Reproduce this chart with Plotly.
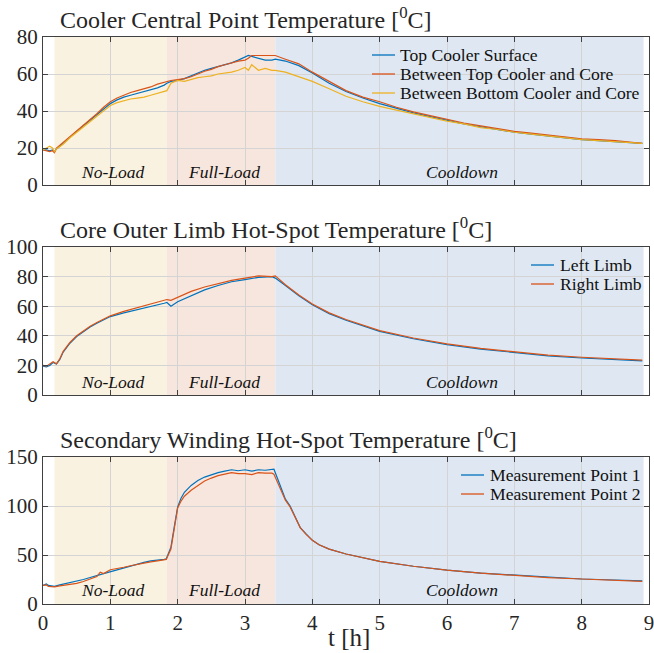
import plotly.graph_objects as go

# ---------------- data ----------------
t1 = [0, 0.05, 0.1, 0.14, 0.17, 0.2, 0.3, 0.4, 0.5, 0.6,
      0.7, 0.8, 0.9, 1.0, 1.1, 1.2, 1.3, 1.4, 1.5, 1.6,
      1.7, 1.8, 1.84, 1.9, 2.0, 2.1, 2.2, 2.3, 2.4, 2.5,
      2.6, 2.7, 2.8, 2.9, 3.0, 3.05, 3.1, 3.2, 3.3, 3.4,
      3.45, 3.6, 3.8, 4.0, 4.25, 4.5, 4.75, 5.0, 5.25, 5.5,
      5.75, 6.0, 6.25, 6.5, 6.75, 7.0, 7.25, 7.5, 7.75, 8.0,
      8.25, 8.5, 8.75, 8.9]
top_cooler = [19, 19, 18.5, 19, 18, 19.5, 22.5, 26, 29, 32,
              35, 38, 41, 44, 46, 47.5, 48.5, 49.5, 50.5, 51.5,
              52.5, 54, 55, 56, 56.5, 57.5, 59, 60.5, 62, 63,
              64, 65, 66, 67.5, 69, 70, 69.5, 68.5, 67.5, 67.5,
              68, 67, 64.5, 60.5, 55, 50.5, 47, 44, 41.5, 39,
              37, 35, 33, 31.5, 30, 28.5, 27.5, 26.5, 25.5, 24.5,
              24, 23.5, 23, 22.5]
top_core = [19, 18.5, 18, 18.5, 17.5, 20, 23, 26.5, 29.5, 32.5,
            35.5, 38.5, 42, 45, 47, 48.5, 50, 51, 52, 53,
            54.5, 55.5, 56, 56.5, 57, 57.5, 58.5, 60, 61.5, 62.5,
            64, 65, 66, 67, 67.5, 68.5, 70, 70, 70, 70,
            70, 68, 65.5, 61, 56, 51, 47.5, 45, 42, 39.5,
            37.5, 35.5, 33.5, 32, 30.5, 29, 28, 27, 26, 25,
            24.5, 24, 23, 22.5]
bottom_core = [19, 20, 21, 20, 18, 19.5, 22, 25.5, 28.5, 31.5,
               34.5, 37.5, 40.5, 43, 44.5, 45.5, 46.5, 47, 47.5, 48.5,
               49.5, 50.5, 51, 55, 56.5, 56, 57, 58, 58.5, 59,
               60, 60.5, 61, 62, 63.5, 62, 65, 62, 63, 62,
               62, 61, 58.5, 56, 52, 48, 45, 42.5, 40.5, 38.5,
               36.5, 34.5, 33, 31, 30, 28.5, 27.5, 26.5, 25.5, 24.5,
               24, 23.5, 23, 22.5]

t2 = [0, 0.05, 0.1, 0.15, 0.2, 0.25, 0.3, 0.4, 0.5, 0.6,
      0.7, 0.8, 0.9, 1.0, 1.2, 1.4, 1.6, 1.8, 1.84, 1.9,
      2.0, 2.2, 2.4, 2.6, 2.8, 3.0, 3.2, 3.4, 3.45, 3.6,
      3.8, 4.0, 4.25, 4.5, 4.75, 5.0, 5.5, 6.0, 6.5, 7.0,
      7.5, 8.0, 8.5, 8.9]
left_limb = [19.5, 19, 20, 22, 21, 24, 29, 35, 39.5, 43,
             46, 48.5, 51, 53, 55.5, 57.5, 60, 62, 62.5, 60,
             63, 67, 71, 74, 76.5, 78, 79.5, 80, 79, 74,
             67, 61, 55, 50.5, 46.5, 43, 38, 34, 31, 28.5,
             26.5, 25, 24, 23]
right_limb = [20, 19.5, 21, 22.5, 21, 24.5, 29.5, 35.5, 40, 43.5,
              46.5, 49, 51.5, 53.5, 56.5, 59, 61.5, 64, 64.5, 64,
              66, 70, 73, 75.5, 77.5, 79, 80.5, 80, 80.5, 74.5,
              67.5, 61.5, 55.5, 51, 47, 43.5, 38.5, 34.5, 31.5, 29,
              27, 25.5, 24.5, 23.5]

t3 = [0, 0.05, 0.08, 0.12, 0.17, 0.25, 0.35, 0.5, 0.6, 0.7,
      0.8, 0.85, 0.9, 1.0, 1.1, 1.2, 1.3, 1.4, 1.5, 1.6,
      1.7, 1.8, 1.83, 1.9, 1.95, 2.0, 2.05, 2.1, 2.2, 2.3,
      2.4, 2.5, 2.6, 2.7, 2.8, 2.9, 3.0, 3.1, 3.2, 3.3,
      3.4, 3.43, 3.5, 3.55, 3.6, 3.67, 3.75, 3.82, 3.9, 4.0,
      4.1, 4.25, 4.5, 4.75, 5.0, 5.5, 6.0, 6.5, 7.0, 7.5,
      8.0, 8.5, 8.9]
mp1 = [19, 20.5, 19, 18.5, 18, 19.5, 21, 23, 25, 27,
       28.5, 30, 31, 33, 34.5, 36.5, 38.5, 40.5, 42.5, 44,
       44.5, 45.5, 46, 58, 79, 99, 108, 114, 121, 126,
       129.5, 132, 134, 135.5, 137, 136, 137, 135.5, 137, 136.5,
       137, 137.5, 125, 115, 107, 100, 88, 78, 72, 65,
       60.5, 56, 51, 47, 43.5, 38.5, 34.5, 31.5, 29.5, 27,
       25.5, 24.5, 23.5]
mp2 = [19, 19.5, 18, 17.5, 17.5, 18.5, 19.5, 21, 23, 25.5,
       28, 32.5, 31, 35, 36, 37.5, 39, 40.5, 42, 43,
       44, 45, 45.5, 56, 77, 98, 105, 110, 116, 121,
       125.5, 128.5, 131, 132.5, 134, 133, 133, 132, 134, 133.5,
       133.5, 132.5, 122, 113, 106, 99, 87.5, 78, 71.5, 65,
       60.5, 56, 51, 47, 43.5, 38.5, 34.5, 31.5, 29, 27,
       25.5, 24, 23]

phase_names = ["No-Load", "Full-Load", "Cooldown"]
phase_bounds = [(0.17, 1.84), (1.84, 3.45), (3.45, 8.92)]
phase_label_x = [1.03, 2.69, 6.22]

panel_titles = ["Cooler Central Point Temperature [<sup>0</sup>C]",
                "Core Outer Limb Hot-Spot Temperature [<sup>0</sup>C]",
                "Secondary Winding Hot-Spot Temperature [<sup>0</sup>C]"]
y_ranges = [(0, 80), (0, 100), (0, 150)]
y_dticks = [20, 20, 50]
x_ticks = list(range(10))

# ---------------- style ----------------
FONT = "Liberation Serif, Times New Roman, serif"
C_BLUE, C_ORANGE, C_YELLOW = "#0072BD", "#D95319", "#EDB120"
phase_colors = ["#FAF2E1", "#F7E6DD", "#DFE8F2"]
AX = "#404040"
GRID = "#D4D4D4"
TXT = "#262626"

W, H = 654, 653
ML, MR, MT, MB = 43, 5, 37, 49
pw = W - ML - MR
ph = H - MT - MB
def py(pix):
    return (H - MB - pix) / ph
def px(pix):
    return (pix - ML) / pw

domains = [(py(185), py(37)), (py(395), py(247)), (py(604), py(457))]

fig = go.Figure()

series = [
    (t1, top_cooler, "Top Cooler Surface", C_BLUE, 1),
    (t1, top_core, "Between Top Cooler and Core", C_ORANGE, 1),
    (t1, bottom_core, "Between Bottom Cooler and Core", C_YELLOW, 1),
    (t2, left_limb, "Left Limb", C_BLUE, 2),
    (t2, right_limb, "Right Limb", C_ORANGE, 2),
    (t3, mp1, "Measurement Point 1", C_BLUE, 3),
    (t3, mp2, "Measurement Point 2", C_ORANGE, 3),
]
for tx, vals, name, col, k in series:
    fig.add_trace(go.Scatter(
        x=tx, y=vals, name=name, mode="lines",
        line=dict(color=col, width=1.2),
        xaxis="x" if k == 1 else f"x{k}",
        yaxis="y" if k == 1 else f"y{k}",
        showlegend=False,
    ))

layout = dict(
    width=W, height=H,
    margin=dict(l=ML, r=MR, t=MT, b=MB),
    paper_bgcolor="white", plot_bgcolor="white",
    font=dict(family=FONT, size=19, color=TXT),
    showlegend=False,
)

for k in range(1, 4):
    xs = "" if k == 1 else str(k)
    xa = dict(
        domain=[0, 1], range=[0, 9], tickvals=x_ticks,
        showticklabels=(k == 3), anchor=f"y{xs}",
        showline=True, linecolor=AX, linewidth=1, mirror="ticks",
        ticks="inside", ticklen=5, tickcolor=AX,
        showgrid=True, gridcolor=GRID, gridwidth=1, zeroline=False,
        tickfont=dict(size=21, family=FONT, color=TXT),
        ticklabeloverflow="allow", automargin=False,
    )
    if k > 1:
        xa["matches"] = "x"
    layout[f"xaxis{xs}"] = xa
    lo, hi = y_ranges[k - 1]
    layout[f"yaxis{xs}"] = dict(
        domain=list(domains[k - 1]), range=[lo, hi], dtick=y_dticks[k - 1],
        anchor=f"x{xs}",
        showline=True, linecolor=AX, linewidth=1, mirror="ticks",
        ticks="inside", ticklen=5, tickcolor=AX,
        showgrid=True, gridcolor=GRID, gridwidth=1, zeroline=False,
        tickfont=dict(size=21, family=FONT, color=TXT),
        ticklabeloverflow="allow", automargin=False,
    )

fig.update_layout(**layout)

# axis title
fig.add_annotation(x=px(349), y=py(637), xref="paper", yref="paper",
                   xanchor="center", yanchor="middle",
                   text="t [h]", showarrow=False,
                   font=dict(size=25, family=FONT, color=TXT))

# shading, phase labels, titles
label_y = [7, 9, 14]
for k in range(1, 4):
    xs = "" if k == 1 else str(k)
    for (a, b), col in zip(phase_bounds, phase_colors):
        fig.add_shape(type="rect", xref=f"x{xs}", yref=f"y{xs} domain",
                      x0=a, x1=b, y0=0, y1=1, fillcolor=col,
                      line=dict(width=0), layer="below")
    for name, lx in zip(phase_names, phase_label_x):
        fig.add_annotation(x=lx, y=label_y[k - 1], xref=f"x{xs}", yref=f"y{xs}",
                           text=f"<i>{name}</i>", showarrow=False,
                           font=dict(size=17.5, family=FONT, color="#111"))
    fig.add_annotation(x=px(58), y=domains[k - 1][1],
                       xref="paper", yref="paper", xanchor="left", yanchor="bottom",
                       yshift=2, text=panel_titles[k - 1], showarrow=False,
                       font=dict(size=24, family=FONT, color=TXT))

# manual legends (sample line + label)
legends = [
    (372, 398, [55, 74, 93], series[0:3]),
    (531, 558, [265, 284], series[3:5]),
    (461, 488, [475, 494], series[5:7]),
]
for lx0, tx0, rows, items in legends:
    for ry, item in zip(rows, items):
        fig.add_shape(type="line", xref="paper", yref="paper",
                      x0=px(lx0), x1=px(lx0 + 23), y0=py(ry), y1=py(ry),
                      line=dict(color=item[3], width=1.3))
        fig.add_annotation(x=px(tx0), y=py(ry), xref="paper", yref="paper",
                           xanchor="left", yanchor="middle", text=item[2],
                           showarrow=False,
                           font=dict(size=17.6, family=FONT, color="#111"))

fig.write_html("out.html")
